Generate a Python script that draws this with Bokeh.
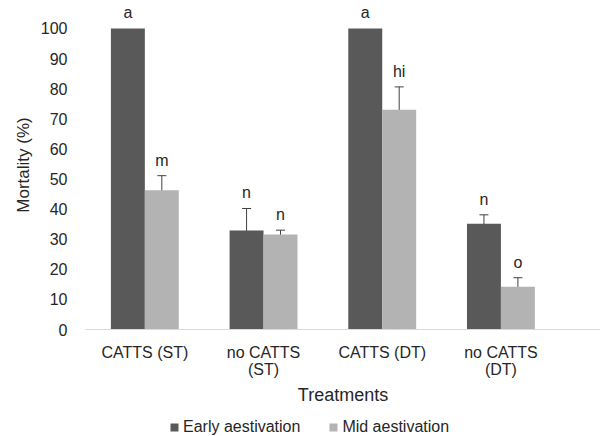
from bokeh.plotting import figure
from bokeh.models import (ColumnDataSource, Range1d, FixedTicker, Whisker, TeeHead,
                          Legend, LegendItem)
from bokeh.layouts import column
from bokeh.embed import file_html
from bokeh.resources import INLINE
from bokeh.core.properties import value
import numpy as np

# ---- data ----
categories = ["CATTS (ST)", "no CATTS\n(ST)", "CATTS (DT)", "no CATTS\n(DT)"]
series_names = ["Early aestivation", "Mid aestivation"]
early = [100, 32.9, 100, 35.1]
early_err = [0, 7.3, 0, 3.0]
early_letters = ["a", "n", "a", "n"]
mid = [46.3, 31.6, 73.0, 14.2]
mid_err = [4.8, 1.4, 7.6, 3.0]
mid_letters = ["m", "n", "hi", "o"]
y_ticks = [0, 10, 20, 30, 40, 50, 60, 70, 80, 90, 100]

FONT = "Liberation Sans"
TXT = "#262626"
DARK = "#595959"
LIGHT = "#b3b3b3"
BAR_W = 0.286

cat_pos = np.arange(len(categories)) + 0.5

def make_source(vals, errs, letters, shift):
    vals = np.array(vals, dtype=float)
    errs = np.array(errs, dtype=float)
    return ColumnDataSource(dict(
        x=cat_pos + shift, top=vals, upper=vals + errs, lower=vals - errs,
        err=errs, label=letters))

src_e = make_source(early, early_err, early_letters, -BAR_W / 2)
src_m = make_source(mid, mid_err, mid_letters, BAR_W / 2)

p = figure(width=600, height=414, output_backend="svg", toolbar_location=None,
           x_range=Range1d(0, 4.339), y_range=Range1d(0, 109.3),
           min_border_left=85, min_border_right=0, min_border_top=0,
           min_border_bottom=85)
p.outline_line_color = None
p.grid.visible = False
p.background_fill_color = "white"
p.border_fill_color = "white"

r_e = p.vbar(x="x", top="top", width=BAR_W, source=src_e, fill_color=DARK, line_color=None)
r_m = p.vbar(x="x", top="top", width=BAR_W, source=src_m, fill_color=LIGHT, line_color=None)

for src in (src_e, src_m):
    idx = [i for i, e in enumerate(src.data["err"]) if e > 0]
    sub = ColumnDataSource({k: [src.data[k][i] for i in idx] for k in ("x", "upper", "lower")})
    w = Whisker(source=sub, base="x", upper="upper", lower="lower", line_color="#404040",
                line_width=1,
                upper_head=TeeHead(size=9, line_color="#404040", line_width=1),
                lower_head=TeeHead(size=9, line_color="#404040", line_width=1))
    p.add_layout(w)
    p.text(x="x", y="upper", text="label", source=src, text_align="center",
           text_baseline="bottom", y_offset=-7, text_font=value(FONT),
           text_font_size="16px", text_color=TXT)

# x axis
p.xaxis.ticker = FixedTicker(ticks=list(cat_pos))
p.xaxis.major_label_overrides = {float(x): c for x, c in zip(cat_pos, categories)}
p.xaxis.axis_line_color = "#d9d9d9"
p.xaxis.axis_line_width = 1
p.xaxis.major_tick_line_color = None
p.xaxis.minor_tick_line_color = None
p.xaxis.major_label_standoff = 8
p.xaxis.major_label_text_font = FONT
p.xaxis.major_label_text_font_size = "16px"
p.xaxis.major_label_text_line_height = 1.05
p.xaxis.major_label_text_color = TXT
p.xaxis.axis_label = "Treatments"
p.xaxis.axis_label_standoff = 4
p.xaxis.axis_label_text_font = FONT
p.xaxis.axis_label_text_font_size = "18px"
p.xaxis.axis_label_text_font_style = "normal"
p.xaxis.axis_label_text_color = TXT

# y axis
p.yaxis.ticker = FixedTicker(ticks=y_ticks)
p.yaxis.axis_line_color = None
p.yaxis.major_tick_line_color = None
p.yaxis.minor_tick_line_color = None
p.yaxis.major_label_standoff = 12
p.yaxis.major_label_text_font = FONT
p.yaxis.major_label_text_font_size = "16px"
p.yaxis.major_label_text_color = TXT
p.yaxis.axis_label = "Mortality (%)"
p.yaxis.axis_label_standoff = 5
p.yaxis.axis_label_text_font = FONT
p.yaxis.axis_label_text_font_size = "17px"
p.yaxis.axis_label_text_font_style = "normal"
p.yaxis.axis_label_text_color = TXT

# legend strip below the chart (same sources, bars kept out of this strip's view)
lf = figure(width=600, height=22, output_backend="svg", toolbar_location=None,
            x_axis_location=None, y_axis_location=None,
            x_range=Range1d(-3, -2), y_range=Range1d(0, 1),
            min_border_left=0, min_border_right=0, min_border_top=0, min_border_bottom=0)
lf.grid.visible = False
lf.outline_line_color = None
lr_e = lf.vbar(x="x", top="top", width=BAR_W, source=src_e, fill_color=DARK, line_color=None)
lr_m = lf.vbar(x="x", top="top", width=BAR_W, source=src_m, fill_color=LIGHT, line_color=None)
legend = Legend(items=[LegendItem(label=series_names[0], renderers=[lr_e]),
                       LegendItem(label=series_names[1], renderers=[lr_m])],
                orientation="horizontal", location=(84, 0),
                glyph_width=10, glyph_height=10, label_standoff=4, spacing=28,
                padding=1, margin=0, border_line_color=None,
                label_text_font=FONT, label_text_font_size="16px",
                label_text_color=TXT, background_fill_alpha=0)
lf.add_layout(legend, "center")

open("out.html", "w").write(file_html(column(p, lf), INLINE))
